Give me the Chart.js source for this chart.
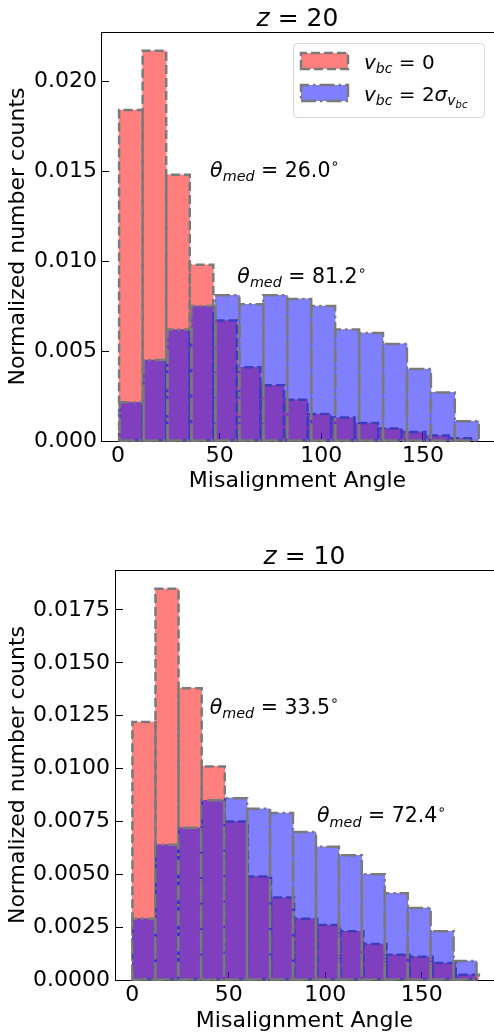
<!DOCTYPE html>
<html>
<head>
<meta charset="utf-8">
<script src="https://cdn.jsdelivr.net/npm/chart.js@4.4.0/dist/chart.umd.min.js"></script>
<style>
html, body { margin: 0; padding: 0; background: #fff; overflow: hidden; }
canvas { display: block; }
</style>
</head>
<body>
<canvas id="z20" width="494" height="500"></canvas>
<canvas id="z10" width="494" height="534"></canvas>
<script>
// z = 20 : bin centres (deg) and normalized counts
const z20RedBins = [6.30, 17.89, 29.48, 41.07, 52.66, 64.25, 75.84, 87.43, 99.02, 110.61, 122.20, 133.79, 145.38, 156.97, 168.56];
const z20RedCounts = [0.0184, 0.0217, 0.0148, 0.0098, 0.0067, 0.0041, 0.0031, 0.0023, 0.0015, 0.0013, 0.0010, 0.0007, 0.0005, 0.0003, 0.00015];
const z20BlueBins = [6.69, 18.47, 30.25, 42.03, 53.81, 65.59, 77.37, 89.15, 100.93, 112.71, 124.49, 136.27, 148.05, 159.83, 171.61];
const z20BlueCounts = [0.00215, 0.0045, 0.0062, 0.0075, 0.0081, 0.0076, 0.0081, 0.0079, 0.0075, 0.0062, 0.0060, 0.0054, 0.0040, 0.0027, 0.0011];
const z20Medians = [26.0, 81.2];

// z = 10
const z10RedBins = [5.99, 17.96, 29.93, 41.90, 53.87, 65.84, 77.81, 89.78, 101.75, 113.72, 125.69, 137.66, 149.63, 161.60, 173.57];
const z10RedCounts = [0.0122, 0.0185, 0.0138, 0.0101, 0.0075, 0.0049, 0.0039, 0.0029, 0.0026, 0.0023, 0.0017, 0.0012, 0.0011, 0.0008, 0.00025];
const z10BlueBins = [5.95, 17.84, 29.73, 41.62, 53.51, 65.40, 77.29, 89.18, 101.07, 112.96, 124.85, 136.74, 148.63, 160.52, 172.41];
const z10BlueCounts = [0.0029, 0.0064, 0.0072, 0.0085, 0.0086, 0.0081, 0.0079, 0.0070, 0.0063, 0.0059, 0.0050, 0.0041, 0.0034, 0.0023, 0.0009];
const z10Medians = [33.5, 72.4];

// tick labels
const xTicks = [0, 50, 100, 150];
const z20YTicks = [0, 0.005, 0.010, 0.015, 0.020];
const z10YTicks = [0, 0.0025, 0.0050, 0.0075, 0.0100, 0.0125, 0.0150, 0.0175];

const FONT = 'DejaVu Sans';
const EDGE = '#7a7a7a';
Chart.defaults.font.family = FONT;
Chart.defaults.color = '#000';

// text with italic / subscript pieces (mathtext-ish)
const LEVELS = {
    0: { k: 1, dy: 0 },
    1: { k: 0.7, dy: 0.2 },
    2: { k: 0.5, dy: 0.36 },
    sup: { k: 0.7, dy: -0.42 }
};
function runFont(r, size) {
    const lv = LEVELS[r.l || 0];
    return (r.it ? 'italic ' : '') + (size * lv.k) + 'px "' + FONT + '"';
}
function richWidth(ctx, runs, size) {
    let w = 0;
    runs.forEach(r => { ctx.font = runFont(r, size); w += ctx.measureText(r.t).width; });
    return w;
}
function drawRich(ctx, runs, x, y, size, align) {
    ctx.save();
    ctx.fillStyle = '#000';
    ctx.textBaseline = 'alphabetic';
    ctx.textAlign = 'left';
    if (align === 'center') x -= richWidth(ctx, runs, size) / 2;
    runs.forEach(r => {
        const lv = LEVELS[r.l || 0];
        ctx.font = runFont(r, size);
        ctx.fillText(r.t, x, y + lv.dy * size);
        x += ctx.measureText(r.t).width;
    });
    ctx.restore();
}

// outline path in the same order matplotlib walks a Rectangle
function edgePath(ctx, x0, x1, top, base) {
    ctx.beginPath();
    ctx.moveTo(x0, base);
    ctx.lineTo(x1, base);
    ctx.lineTo(x1, top);
    ctx.lineTo(x0, top);
    ctx.closePath();
    ctx.stroke();
}

// dashed outline round every bar, drawn right after its dataset
const histEdges = {
    id: 'histEdges',
    afterDatasetDraw(chart, args) {
        const ds = chart.data.datasets[args.index];
        const ctx = chart.ctx;
        ctx.save();
        ctx.strokeStyle = EDGE;
        ctx.lineWidth = 2.5;
        ctx.setLineDash(ds.edgeDash);
        args.meta.data.forEach(el => {
            const p = el.getProps(['x', 'y', 'base', 'width'], true);
            edgePath(ctx, p.x - p.width / 2, p.x + p.width / 2, p.y, p.base);
        });
        ctx.restore();
    }
};

const decorations = {
    id: 'decorations',
    afterDraw(chart, args, opts) {
        const ctx = chart.ctx;
        const ca = chart.chartArea;
        // top spine
        ctx.save();
        ctx.strokeStyle = '#000';
        ctx.lineWidth = 1;
        ctx.beginPath();
        ctx.moveTo(ca.left, ca.top + 0.5);
        ctx.lineTo(ca.right, ca.top + 0.5);
        ctx.stroke();
        ctx.restore();

        drawRich(ctx, opts.title, (ca.left + ca.right) / 2, ca.top - 6, 25, 'center');

        opts.notes.forEach(n => {
            drawRich(ctx, n.runs, chart.scales.x.getPixelForValue(n.x), chart.scales.y.getPixelForValue(n.y), 20.5);
        });

        if (opts.legend) {
            const bx = ca.right - 201, by = ca.top + 11, bw = 191, bh = 74;
            ctx.save();
            ctx.beginPath();
            ctx.roundRect(bx + 0.5, by + 0.5, bw, bh, 4);
            ctx.fillStyle = 'rgba(255,255,255,0.8)';
            ctx.fill();
            ctx.strokeStyle = '#d5d5d5';
            ctx.lineWidth = 1;
            ctx.stroke();
            chart.data.datasets.forEach((ds, i) => {
                const py = by + 10 + i * 32;
                ctx.fillStyle = ds.backgroundColor;
                ctx.fillRect(bx + 8, py, 47, 16);
                ctx.strokeStyle = EDGE;
                ctx.lineWidth = 2.5;
                ctx.setLineDash(ds.edgeDash);
                edgePath(ctx, bx + 8, bx + 55, py, py + 16);
                ctx.setLineDash([]);
                drawRich(ctx, ds.legendRuns, bx + 71, py + 15.5, 20);
            });
            ctx.restore();
        }
    }
};

function noteRuns(v) {
    return [{ t: 'θ', it: 1 }, { t: 'med', it: 1, l: 1 }, { t: ' = ' + v.toFixed(1) }, { t: '∘', l: 'sup' }];
}

function histogram(id, c) {
    const tickFont = { family: FONT, size: 22 };
    return new Chart(document.getElementById(id), {
        type: 'bar',
        data: {
            datasets: [{
                label: 'v_bc = 0',
                legendRuns: [{ t: 'v', it: 1 }, { t: 'bc', it: 1, l: 1 }, { t: ' = 0' }],
                data: c.redBins.map((b, i) => ({ x: b, y: c.redCounts[i] })),
                xAxisID: 'x',
                backgroundColor: 'rgba(255,0,0,0.5)',
                borderWidth: 0,
                edgeDash: [9, 4],
                order: 2
            }, {
                label: 'v_bc = 2 sigma',
                legendRuns: [{ t: 'v', it: 1 }, { t: 'bc', it: 1, l: 1 }, { t: ' = 2' }, { t: 'σ', it: 1 }, { t: 'v', it: 1, l: 1 }, { t: 'bc', it: 1, l: 2 }],
                data: c.blueBins.map((b, i) => ({ x: b, y: c.blueCounts[i] })),
                xAxisID: 'x2',
                backgroundColor: 'rgba(0,0,255,0.5)',
                borderWidth: 0,
                edgeDash: [15, 4, 2.5, 4],
                order: 1
            }]
        },
        options: {
            responsive: false,
            animation: false,
            layout: { padding: { top: c.top, left: 0, right: 0, bottom: 0 } },
            datasets: { bar: { grouped: false, barPercentage: 1, categoryPercentage: 1 } },
            plugins: {
                legend: { display: false },
                tooltip: { enabled: false },
                decorations: { title: c.title, notes: c.notes, legend: c.legend }
            },
            scales: {
                x: {
                    type: 'linear',
                    offset: false,
                    min: c.xMin,
                    max: c.xMax,
                    afterBuildTicks: s => { s.ticks = xTicks.map(v => ({ value: v })); },
                    afterFit: s => { s.height = c.xHeight; },
                    grid: { offset: false, drawOnChartArea: false, tickLength: -8, color: '#000', tickWidth: 1 },
                    border: { color: '#000', width: 1 },
                    ticks: { font: tickFont, color: '#000', padding: c.xPad, maxRotation: 0, autoSkip: false },
                    title: { display: true, text: 'Misalignment Angle', font: tickFont, color: '#000', padding: { top: 0, bottom: c.titlePad } }
                },
                x2: {
                    type: 'linear',
                    offset: false,
                    min: c.xMin,
                    max: c.xMax,
                    display: false,
                    grid: { offset: false },
                    afterBuildTicks: s => { s.ticks = xTicks.map(v => ({ value: v })); }
                },
                y: {
                    min: 0,
                    max: c.yMax,
                    afterBuildTicks: s => { s.ticks = c.yTicks.map(v => ({ value: v })); },
                    afterFit: s => { s.width = c.yWidth; },
                    grid: { drawOnChartArea: false, tickLength: -8, color: '#000', tickWidth: 1 },
                    border: { color: '#000', width: 1 },
                    ticks: { font: tickFont, color: '#000', padding: c.yPad, callback: v => v.toFixed(c.decimals) },
                    title: { display: true, text: 'Normalized number counts', font: tickFont, color: '#000', padding: { top: 5, bottom: 0 } }
                }
            }
        },
        plugins: [histEdges, decorations]
    });
}

histogram('z20', {
    redBins: z20RedBins, redCounts: z20RedCounts,
    blueBins: z20BlueBins, blueCounts: z20BlueCounts,
    yTicks: z20YTicks, yMax: 0.02274, decimals: 3,
    xMin: -8.4, xMax: 185.0,
    top: 32, xHeight: 59, yWidth: 101, xPad: 10, yPad: 12, titlePad: 6,
    title: [{ t: 'z', it: 1 }, { t: ' = 20' }],
    notes: [
        { x: 45.3, y: 0.0147, runs: noteRuns(z20Medians[0]) },
        { x: 58.7, y: 0.00877, runs: noteRuns(z20Medians[1]) }
    ],
    legend: true
});

histogram('z10', {
    redBins: z10RedBins, redCounts: z10RedCounts,
    blueBins: z10BlueBins, blueCounts: z10BlueCounts,
    yTicks: z10YTicks, yMax: 0.01939, decimals: 4,
    xMin: -9.0, xMax: 187.4,
    top: 70, xHeight: 54, yWidth: 115, xPad: 10, yPad: 13, titlePad: 0,
    title: [{ t: 'z', it: 1 }, { t: ' = 10' }],
    notes: [
        { x: 40.1, y: 0.01259, runs: noteRuns(z10Medians[0]) },
        { x: 95.7, y: 0.00745, runs: noteRuns(z10Medians[1]) }
    ],
    legend: false
});
</script>
</body>
</html>
